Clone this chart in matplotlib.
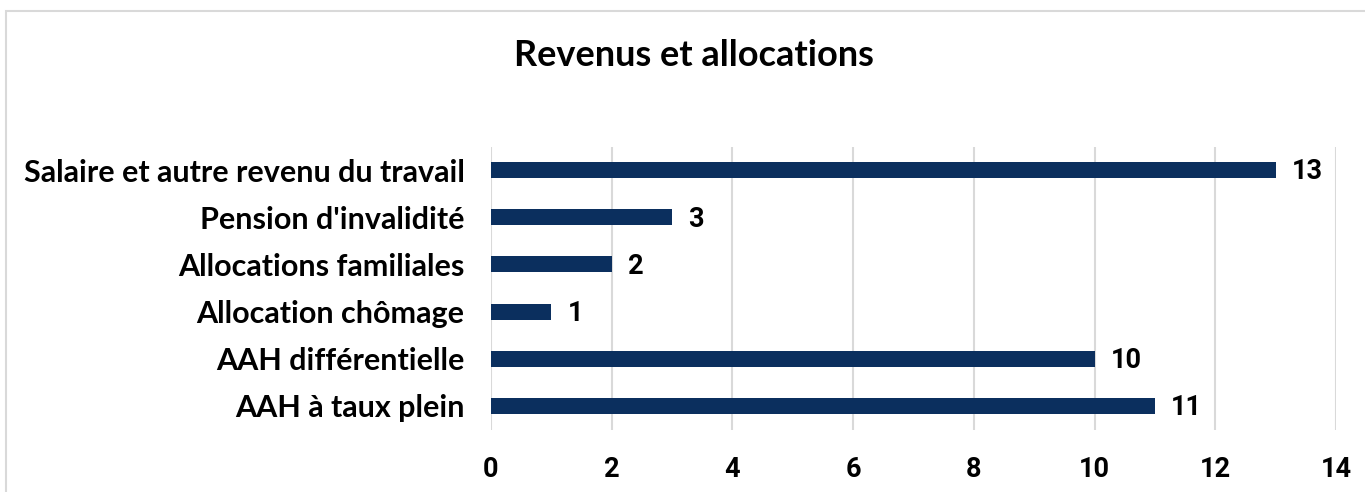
import matplotlib.pyplot as plt
from matplotlib.patches import Rectangle

# données du graphique
categories = ["AAH à taux plein", "AAH différentielle", "Allocation chômage",
              "Allocations familiales", "Pension d'invalidité",
              "Salaire et autre revenu du travail"]
valeurs = [11, 10, 1, 2, 3, 13]
ticks_x = [0, 2, 4, 6, 8, 10, 12, 14]

couleur_barre = "#0b2f5e"
police_cat = ["Lato", "DejaVu Sans"]
police_num = ["Roboto", "DejaVu Sans"]

fig = plt.figure(figsize=(13.65, 4.92), dpi=100)

# cadre gris autour du graphique
fig.patches.append(Rectangle((6 / 1365, -0.1), 1.2, 1.1 - 11 / 492,
                             transform=fig.transFigure, fill=False,
                             edgecolor="#d9d9d9", linewidth=1.5))

ax = fig.add_axes([491 / 1365, 1 - 429.5 / 492, 845 / 1365, 283 / 492])

y = range(len(categories))
ax.barh(y, valeurs, height=0.34, color=couleur_barre, zorder=3)

for i, v in enumerate(valeurs):
    ax.text(v + 0.27, i - 0.04, str(v), va="center", ha="left", fontsize=19.5,
            fontweight="bold", family=police_num, color="#000000")

ax.set_xlim(0, 14)
ax.set_ylim(-0.5, len(categories) - 0.5)
ax.set_xticks(ticks_x)
ax.set_xticklabels([str(t) for t in ticks_x], fontsize=19.5,
                   fontweight="bold", family=police_num)
ax.set_yticks(list(y))
ax.set_yticklabels(categories, fontsize=22, fontweight="bold",
                   family=police_cat)
ax.tick_params(axis="both", length=0)
ax.tick_params(axis="x", pad=19)
ax.tick_params(axis="y", pad=19)

ax.grid(axis="x", color="#d9d9d9", linewidth=1.5, zorder=0)
for s in ax.spines.values():
    s.set_visible(False)

fig.text(694 / 1365, 1 - 55 / 492, "Revenus et allocations", ha="center",
         va="center", fontsize=26, fontweight="bold", family=police_cat)

fig.savefig("out.png", dpi=100)
